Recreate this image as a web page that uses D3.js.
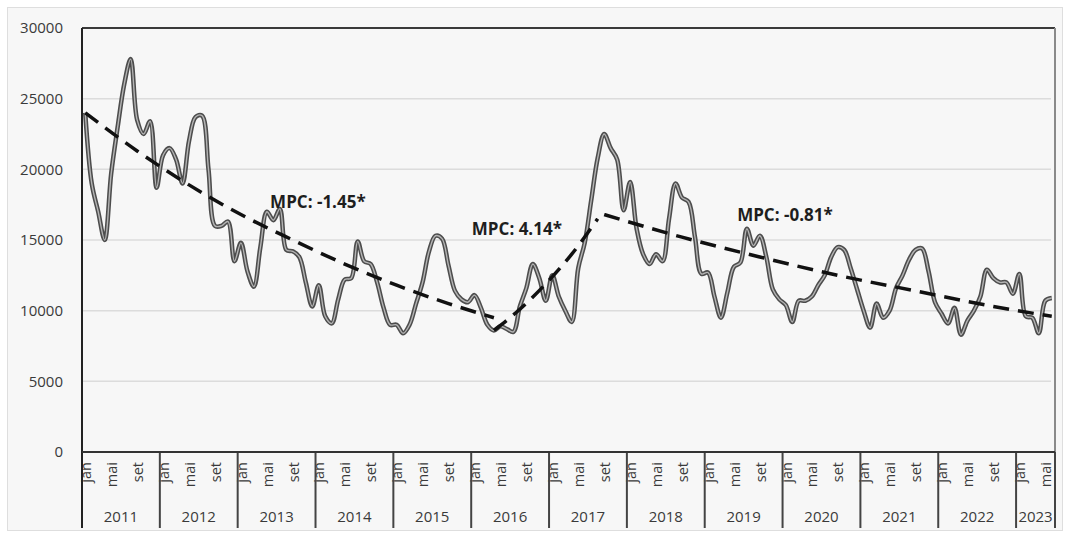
<!DOCTYPE html>
<html>
<head>
<meta charset="utf-8">
<script src="https://cdn.jsdelivr.net/npm/d3@7"></script>
<style>
  body { margin: 0; background: #fff; }
  svg { display: block; }
</style>
</head>
<body>
<div id="chart"></div>
<script>
// Data: monthly values, jan 2011 to jun 2023
var years = ["2011", "2012", "2013", "2014", "2015", "2016", "2017", "2018", "2019", "2020", "2021", "2022", "2023"];
var monthsInYear = [12, 12, 12, 12, 12, 12, 12, 12, 12, 12, 12, 12, 6];
var monthLabels = ["jan", "mai", "set"];
var monthLabelIdx = [0, 4, 8];
var yTicks = [0, 5000, 10000, 15000, 20000, 25000, 30000];

var monthly = [
  24000, 19000, 17000, 15000, 19700, 23000, 26000, 27800, 23500, 22500, 23400, 18700,
  21000, 21500, 20700, 19000, 22000, 23700, 23800, 20000, 16000, 16000, 16300, 13500,
  14800, 12800, 11700, 14500, 17000, 16400, 17200, 14300, 14200, 13800, 12000, 10300,
  11800, 9600, 9100, 10800, 12200, 12300, 14900, 13500, 13300, 12000, 10200, 9000,
  9000, 8400, 9000, 10500, 12000, 14200, 15300, 15100, 13200, 11400, 10800, 10600,
  11100, 10200, 9000, 8600, 8900, 8700, 8500, 10300, 11600, 13300, 12300, 10700,
  12500, 11000, 10000, 9200, 13000, 14800, 17800, 20800, 22500, 21500, 20700, 17100,
  19100, 15800, 14000, 13300, 14000, 13500, 16500, 19000, 18000, 17700, 15200, 12600,
  12700, 11000, 9500, 11300, 13100, 13400, 15800, 14600, 15300, 13800, 11500, 10800,
  10400, 9200, 10700, 10700, 11000, 11800, 12500, 13800, 14500, 14300, 13000, 11500,
  10000, 8800, 10500, 9500, 10000, 11600, 12500, 13600, 14300, 14400, 12800, 10600,
  9800, 9100, 10200, 8300, 9300, 10000, 11000, 12900, 12300, 12000, 12000, 11200,
  12600, 9600, 9500, 8400, 10700, 10900
];

// Joinpoint trend segments (month index, fitted value)
var trend1Idx = [0, 8, 16, 24, 32, 40, 48, 56, 63];
var trend1Val = [24000, 21300, 18900, 16800, 15000, 13300, 11800, 10500, 9500];
var trend2Idx = [63, 67, 71, 75, 79];
var trend2Val = [8600, 10100, 11900, 14000, 16500];
var trend3Idx = [80, 92, 104, 116, 128, 140, 149];
var trend3Val = [16800, 15200, 13800, 12500, 11400, 10300, 9600];

var mpcText = ["MPC: -1.45*", "MPC: 4.14*", "MPC: -0.81*"];
var mpcIdx = [28.5, 59.6, 100.5];
var mpcVal = [17260, 15350, 16340];

// Layout
var width = 1068, height = 535;
var plot = {left: 82, right: 1055, top: 28, bottom: 452};
var font = "'Open Sans', 'Noto Sans', sans-serif";

var svg = d3.select("#chart")
    .append("svg")
    .attr("width", width)
    .attr("height", height)
    .style("font-family", font);

// chart background frame
svg.append("rect")
    .attr("x", 7.5).attr("y", 7.5)
    .attr("width", 1055).attr("height", 523)
    .attr("fill", "#f7f7f7")
    .attr("stroke", "#dedede");

var x = d3.scaleLinear()
    .domain([-0.5, monthly.length - 0.5])
    .range([plot.left, plot.right]);

var y = d3.scaleLinear()
    .domain([0, 30000])
    .range([plot.bottom, plot.top]);

// gridlines
svg.append("g")
    .selectAll("line")
    .data(yTicks.filter(function (d) { return d > 0 && d < 30000; }))
    .enter()
    .append("line")
    .attr("x1", plot.left).attr("x2", plot.right - 4)
    .attr("y1", function (d) { return y(d); })
    .attr("y2", function (d) { return y(d); })
    .attr("stroke", "#dcdcdc")
    .attr("stroke-width", 1.5);

// plot borders
svg.append("line")
    .attr("x1", plot.left).attr("x2", plot.right)
    .attr("y1", plot.top).attr("y2", plot.top)
    .attr("stroke", "#3a3a3a").attr("stroke-width", 2);
svg.append("line")
    .attr("x1", plot.right).attr("x2", plot.right)
    .attr("y1", plot.top).attr("y2", plot.bottom)
    .attr("stroke", "#8a8a8a").attr("stroke-width", 2);

// Y axis
var yAxis = svg.append("g")
    .attr("transform", "translate(" + plot.left + ",0)")
    .call(d3.axisLeft(y).tickValues(yTicks).tickFormat(d3.format("d")).tickSize(0).tickPadding(19));
yAxis.select(".domain").remove();
yAxis.selectAll("text")
    .style("font-family", font)
    .style("font-size", "15px")
    .attr("fill", "#3a3a3a");

// month tick labels (jan, mai, set of every year)
var labelIdx = [];
var labelText = [];
var start = 0;
monthsInYear.forEach(function (n) {
    monthLabelIdx.forEach(function (m, k) {
        if (m < n) {
            labelIdx.push(start + m);
            labelText.push(monthLabels[k]);
        }
    });
    start += n;
});

var xAxis = svg.append("g")
    .attr("transform", "translate(0," + plot.bottom + ")")
    .call(d3.axisBottom(x)
        .tickValues(labelIdx)
        .tickSize(0)
        .tickFormat(function (d, i) { return labelText[i]; }));
xAxis.select(".domain").remove();
xAxis.selectAll("text")
    .attr("transform", "rotate(-90)")
    .attr("x", -10)
    .attr("y", 0)
    .attr("dy", "0.36em")
    .style("text-anchor", "end")
    .style("font-family", font)
    .style("font-size", "14.5px")
    .attr("fill", "#3a3a3a");

// year separators and labels
var yearStarts = [];
start = 0;
monthsInYear.forEach(function (n) { yearStarts.push(start); start += n; });

svg.append("g")
    .selectAll("line")
    .data(yearStarts.concat([monthly.length]))
    .enter()
    .append("line")
    .attr("x1", function (d) { return x(d - 0.5); })
    .attr("x2", function (d) { return x(d - 0.5); })
    .attr("y1", plot.bottom)
    .attr("y2", 528)
    .attr("stroke", "#444")
    .attr("stroke-width", 2);

svg.append("g")
    .selectAll("text")
    .data(years)
    .enter()
    .append("text")
    .attr("x", function (d, i) { return x(yearStarts[i] - 0.5 + monthsInYear[i] / 2); })
    .attr("y", 517)
    .attr("dy", "0.35em")
    .attr("text-anchor", "middle")
    .style("font-size", "15px")
    .attr("fill", "#3a3a3a")
    .text(function (d) { return d; });

// left and bottom axis lines
svg.append("line")
    .attr("x1", plot.left).attr("x2", plot.left)
    .attr("y1", plot.top).attr("y2", 528)
    .attr("stroke", "#222").attr("stroke-width", 2);
svg.append("line")
    .attr("x1", plot.left).attr("x2", plot.right)
    .attr("y1", plot.bottom).attr("y2", plot.bottom)
    .attr("stroke", "#333").attr("stroke-width", 2);

// data line (double stroke look)
var line = d3.line()
    .x(function (d, i) { return x(i); })
    .y(function (d) { return y(d); })
    .curve(d3.curveCatmullRom.alpha(0.5));

svg.append("path")
    .datum(monthly)
    .attr("d", line)
    .attr("fill", "none")
    .attr("stroke", "#4d4d4d")
    .attr("stroke-width", 4.5)
    .attr("stroke-linejoin", "round");
svg.append("path")
    .datum(monthly)
    .attr("d", line)
    .attr("fill", "none")
    .attr("stroke", "#b4b4b4")
    .attr("stroke-width", 1.4)
    .attr("stroke-linejoin", "round");

// trend lines
var trendLine = d3.line()
    .x(function (d) { return x(d[0]); })
    .y(function (d) { return y(d[1]); })
    .curve(d3.curveMonotoneX);

[[trend1Idx, trend1Val], [trend2Idx, trend2Val], [trend3Idx, trend3Val]].forEach(function (t) {
    svg.append("path")
        .datum(d3.zip(t[0], t[1]))
        .attr("d", trendLine)
        .attr("fill", "none")
        .attr("stroke", "#111")
        .attr("stroke-width", 3.5)
        .attr("stroke-dasharray", "16,9");
});

// MPC annotations
svg.append("g")
    .selectAll("text")
    .data(mpcText)
    .enter()
    .append("text")
    .attr("x", function (d, i) { return x(mpcIdx[i]); })
    .attr("y", function (d, i) { return y(mpcVal[i]); })
    .style("font-size", "17px")
    .style("font-weight", "bold")
    .attr("fill", "#1e1e1e")
    .text(function (d) { return d; });
</script>
</body>
</html>
